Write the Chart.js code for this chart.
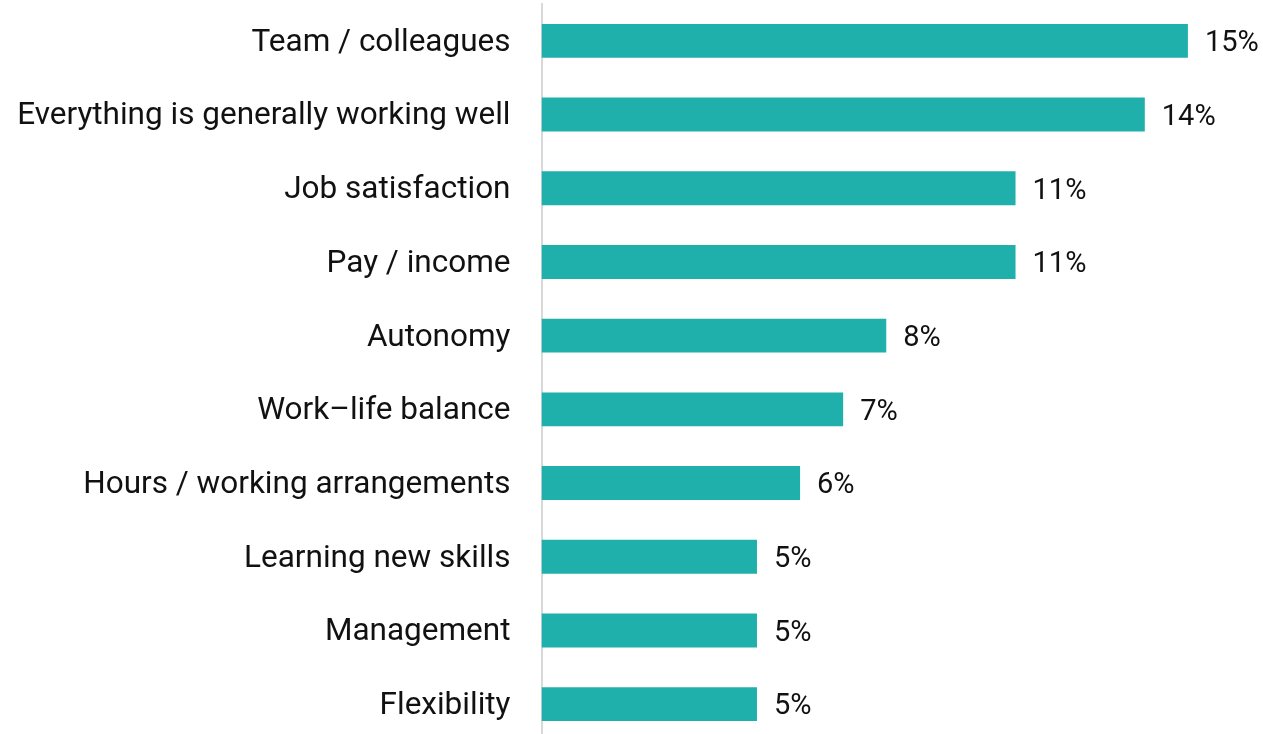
<!DOCTYPE html>
<html>
<head>
<meta charset="utf-8">
<script src="https://cdn.jsdelivr.net/npm/chart.js@4"></script>
<style>
  html, body { margin: 0; padding: 0; background: #fff; overflow: hidden; }
  #wrap { width: 1263px; height: 741px; position: relative; }
</style>
</head>
<body>
<div id="wrap"><canvas id="reasonsChart"></canvas></div>
<script>
const categories = [
    'Team / colleagues',
    'Everything is generally working well',
    'Job satisfaction',
    'Pay / income',
    'Autonomy',
    'Work–life balance',
    'Hours / working arrangements',
    'Learning new skills',
    'Management',
    'Flexibility'
];
const shares = [15, 14, 11, 11, 8, 7, 6, 5, 5, 5];

const barColor = '#20b0ac';
const textColor = '#111111';
const fontFamily = 'Roboto, "Noto Sans", sans-serif';

// value labels drawn just past the end of each bar
const barValueLabels = {
    id: 'barValueLabels',
    afterDatasetsDraw(chart) {
        const ctx = chart.ctx;
        const meta = chart.getDatasetMeta(0);
        ctx.save();
        ctx.font = '29px ' + fontFamily;
        ctx.fillStyle = textColor;
        ctx.textAlign = 'left';
        ctx.textBaseline = 'middle';
        meta.data.forEach((bar, i) => {
            ctx.fillText(shares[i] + '%', bar.x + 17, bar.y + 3);
        });
        ctx.restore();
    }
};

document.addEventListener('DOMContentLoaded', function () {
    let ctx = document.getElementById('reasonsChart').getContext('2d');
    new Chart(ctx, {
        type: 'bar',
        data: {
            labels: categories,
            datasets: [{
                data: shares,
                backgroundColor: barColor,
                barPercentage: 0.92,
                categoryPercentage: 0.5
            }]
        },
        options: {
            indexAxis: 'y',
            responsive: true,
            maintainAspectRatio: false,
            animation: false,
            layout: { padding: { top: 4, right: 32, left: 0, bottom: 0 } },
            plugins: {
                legend: { display: false },
                tooltip: { enabled: false }
            },
            scales: {
                x: {
                    min: 0,
                    max: 16,
                    display: false
                },
                y: {
                    grid: { display: false, drawTicks: false },
                    border: { display: true, color: '#d9d9d9', width: 2 },
                    ticks: {
                        color: textColor,
                        padding: 31,
                        labelOffset: 2,
                        font: { family: fontFamily, size: 31.5 }
                    },
                    afterFit(scale) {
                        // fixed label column, no extra room above/below the categories
                        scale.width = 541.5;
                        scale.paddingTop = 0;
                        scale.paddingBottom = 0;
                    }
                }
            }
        },
        plugins: [barValueLabels]
    });
});
</script>
</body>
</html>
